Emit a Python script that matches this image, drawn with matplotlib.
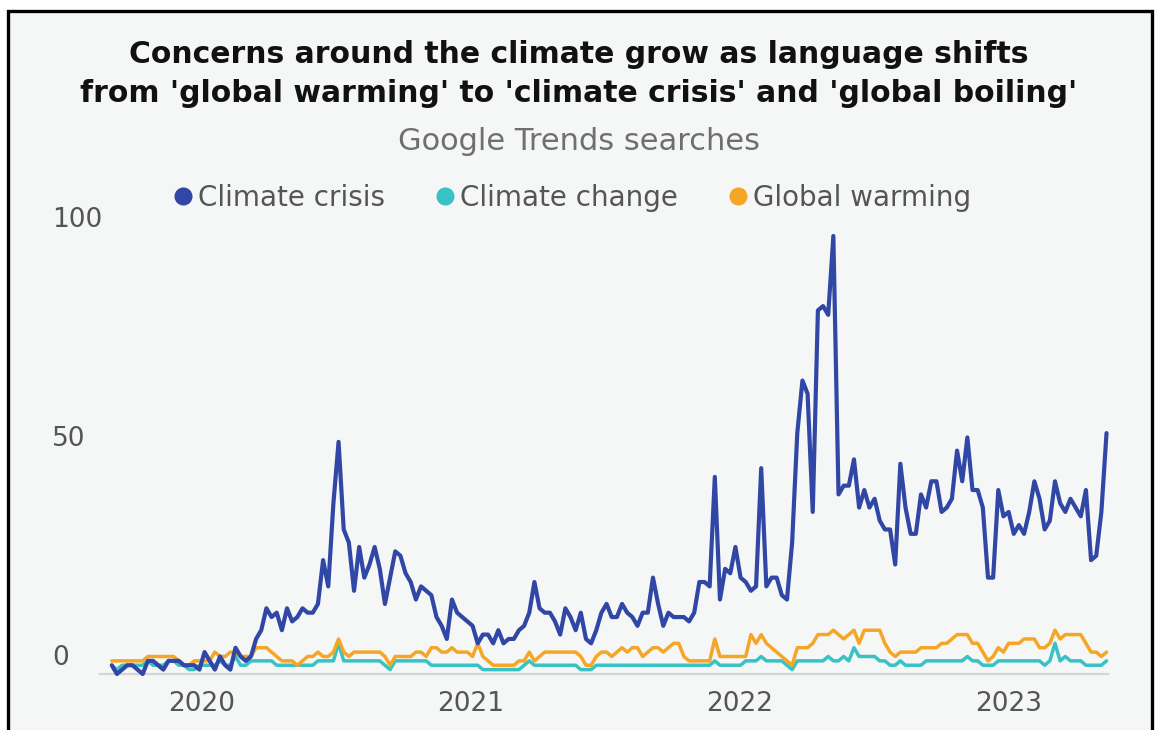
import pandas as pd
import numpy as np
import matplotlib.pyplot as plt
import matplotlib.dates as mdates
from matplotlib.lines import Line2D
from matplotlib.patches import Rectangle
from matplotlib.transforms import blended_transform_factory, offset_copy

# weekly Google Trends values, first week 2019-09-01
start_week = '2019-09-01'

climate_crisis = [
    2, 0, 1, 2, 2, 1, 0, 3, 3, 2,
    1, 3, 3, 3, 2, 2, 2, 1, 5, 3,
    1, 4, 2, 1, 6, 4, 3, 4, 8, 10,
    15, 13, 14, 10, 15, 12, 13, 15, 14, 14,
    16, 26, 20, 39, 53, 33, 30, 19, 29, 22,
    25, 29, 24, 16, 22, 28, 27, 23, 21, 17,
    20, 19, 18, 13, 11, 8, 17, 14, 13, 12,
    11, 7, 9, 9, 7, 10, 7, 8, 8, 10,
    11, 14, 21, 15, 14, 14, 12, 9, 15, 13,
    10, 14, 8, 7, 10, 14, 16, 13, 13, 16,
    14, 13, 11, 14, 14, 22, 16, 11, 14, 13,
    13, 13, 12, 14, 21, 21, 20, 45, 17, 24,
    23, 29, 22, 21, 19, 20, 47, 20, 22, 22,
    18, 17, 30, 55, 67, 64, 37, 83, 84, 82,
    100, 41, 43, 43, 49, 38, 42, 38, 40, 35,
    33, 33, 25, 48, 38, 32, 32, 41, 38, 44,
    44, 37, 38, 40, 51, 44, 54, 42, 42, 38,
    22, 22, 42, 36, 37, 32, 34, 32, 37, 44,
    40, 33, 35, 44, 39, 37, 40, 38, 36, 42,
    26, 27, 37, 55,
]

climate_change = [
    2, 1, 2, 2, 2, 2, 2, 3, 2, 2,
    2, 3, 3, 2, 2, 1, 1, 2, 2, 2,
    2, 3, 2, 2, 4, 2, 2, 3, 3, 3,
    3, 3, 2, 2, 2, 2, 2, 2, 2, 2,
    3, 3, 3, 3, 7, 3, 3, 3, 3, 3,
    3, 3, 3, 2, 1, 3, 3, 3, 3, 3,
    3, 3, 2, 2, 2, 2, 2, 2, 2, 2,
    2, 2, 1, 1, 1, 1, 1, 1, 1, 1,
    2, 3, 2, 2, 2, 2, 2, 2, 2, 2,
    2, 1, 1, 1, 2, 2, 2, 2, 2, 2,
    2, 2, 2, 2, 2, 2, 2, 2, 2, 2,
    2, 2, 2, 2, 2, 2, 2, 3, 2, 2,
    2, 2, 2, 3, 3, 3, 4, 3, 3, 3,
    3, 2, 1, 3, 3, 3, 3, 3, 3, 4,
    3, 3, 4, 3, 6, 4, 4, 4, 4, 3,
    3, 2, 2, 3, 2, 2, 2, 2, 3, 3,
    3, 3, 3, 3, 3, 3, 4, 3, 3, 2,
    2, 2, 3, 3, 3, 3, 3, 3, 3, 3,
    3, 2, 3, 7, 3, 4, 3, 3, 3, 2,
    2, 2, 2, 3,
]

global_warming = [
    3, 3, 3, 3, 3, 3, 3, 4, 4, 4,
    4, 4, 4, 3, 2, 2, 3, 3, 3, 3,
    5, 4, 4, 5, 5, 4, 4, 4, 6, 6,
    6, 5, 4, 3, 3, 3, 2, 3, 4, 4,
    5, 4, 4, 5, 8, 5, 4, 5, 5, 5,
    5, 5, 5, 4, 2, 4, 4, 4, 4, 5,
    5, 4, 6, 6, 5, 5, 6, 5, 5, 5,
    4, 7, 4, 3, 2, 2, 2, 2, 2, 3,
    3, 5, 3, 4, 5, 5, 5, 5, 5, 5,
    5, 4, 2, 2, 4, 5, 5, 4, 5, 6,
    5, 6, 6, 4, 5, 6, 6, 5, 6, 7,
    7, 4, 3, 3, 3, 3, 3, 8, 4, 4,
    4, 4, 4, 4, 9, 7, 9, 7, 6, 5,
    4, 3, 2, 6, 6, 6, 7, 9, 9, 9,
    10, 9, 8, 9, 10, 7, 10, 10, 10, 10,
    7, 5, 4, 5, 5, 5, 5, 6, 6, 6,
    6, 7, 7, 8, 9, 9, 9, 7, 7, 5,
    3, 4, 6, 5, 7, 7, 7, 8, 8, 8,
    6, 6, 7, 10, 8, 9, 9, 9, 9, 7,
    5, 5, 4, 5,
]

series_names = ['Climate crisis', 'Climate change', 'Global warming']
series_colors = ['#3147a6', '#38c2c4', '#f5a626']
year_ticks = ['2020', '2021', '2022', '2023']
y_ticks = [0, 50, 100]

dates = pd.date_range(start_week, periods=len(climate_crisis), freq='7D')

bg = '#f5f6f6'
fig = plt.figure(figsize=(11.57, 7.3), dpi=100, facecolor='white')

# black frame round the card
W, H = 1157, 730
fig.add_artist(Rectangle((8 / W, -0.05), (1152 - 8) / W, (730 - 11) / H + 0.05,
                         transform=fig.transFigure, facecolor=bg,
                         edgecolor='black', linewidth=2.4, zorder=-10))

ax = fig.add_axes([100 / W, 56 / H, 1008 / W, 438 / H])
ax.set_facecolor('none')

ax.plot(dates, climate_change, color=series_colors[1], lw=2.5,
        solid_joinstyle='round', solid_capstyle='round', clip_on=False, zorder=3)
ax.plot(dates, global_warming, color=series_colors[2], lw=2.5,
        solid_joinstyle='round', solid_capstyle='round', clip_on=False, zorder=4)
ax.plot(dates, climate_crisis, color=series_colors[0], lw=3.0,
        solid_joinstyle='round', solid_capstyle='round', clip_on=False, zorder=5)

ax.set_ylim(0, 100)
ax.set_xlim(dates[0] - pd.Timedelta(days=16), dates[-1] + pd.Timedelta(days=2))

for s in ['top', 'right', 'left']:
    ax.spines[s].set_visible(False)
ax.spines['bottom'].set_color('#d4d4d4')
ax.spines['bottom'].set_linewidth(1.6)

ax.set_xticks([pd.Timestamp(y + '-01-01') for y in year_ticks])
ax.set_xticklabels(year_ticks)
ax.tick_params(axis='x', length=0, pad=12, labelsize=19, labelcolor='#555555')
ax.set_yticks([])

# y labels sit above their value, left aligned
trans = blended_transform_factory(fig.transFigure, ax.transData)
trans = offset_copy(trans, fig=fig, y=16, units='dots')
for v in y_ticks:
    ax.text(52 / W, v, str(v), transform=trans, ha='left', va='center',
            fontsize=19, color='#555555')

fig.text(0.5, 1 - 74 / H,
         "Concerns around the climate grow as language shifts\n"
         "from 'global warming' to 'climate crisis' and 'global boiling'",
         ha='center', va='center', fontsize=21.5, fontweight='bold',
         color='#111111', linespacing=1.42)
fig.text(0.5, 1 - 142 / H, 'Google Trends searches', ha='center', va='center',
         fontsize=22, color='#6f6f6f')

handles = [Line2D([], [], marker='o', ls='', color=c, markersize=12) for c in series_colors]
fig.legend(handles, series_names, loc='center', bbox_to_anchor=(570 / W, 1 - 198 / H),
           ncol=3, frameon=False, fontsize=20, labelcolor='#555555',
           handletextpad=0.05, columnspacing=1.65, handlelength=1.0)

plt.savefig('out.png', dpi=100, facecolor='white')
